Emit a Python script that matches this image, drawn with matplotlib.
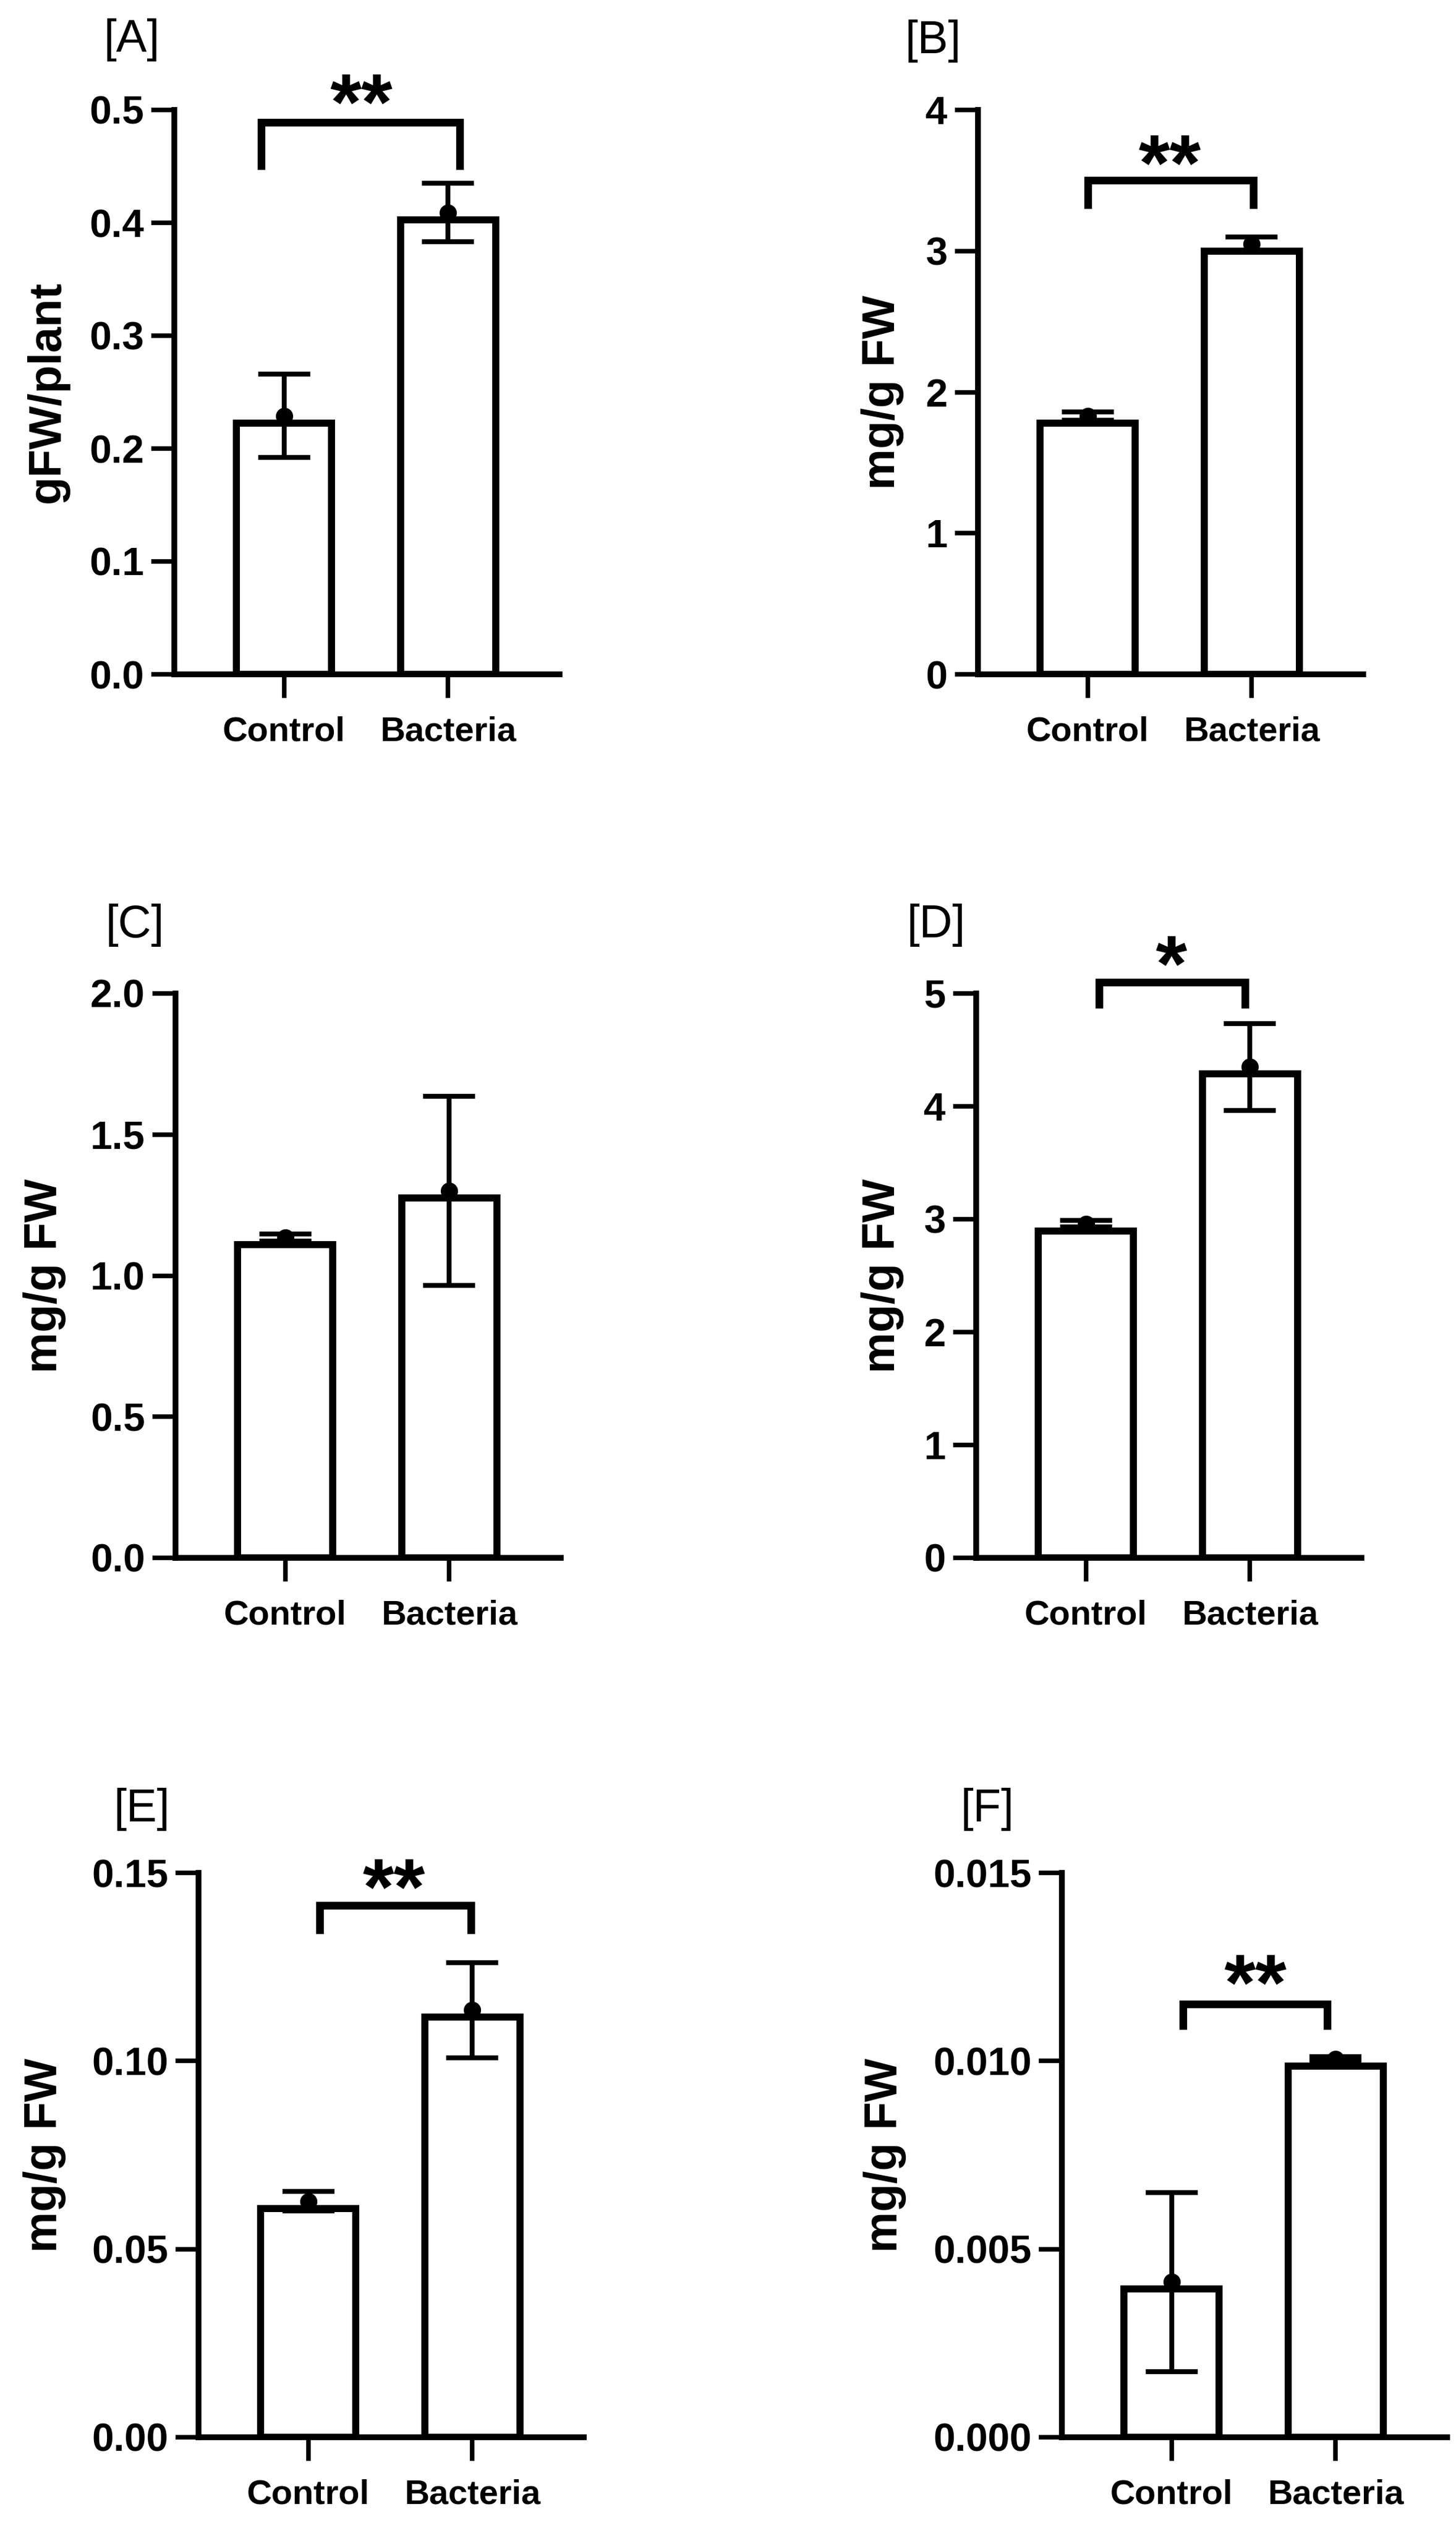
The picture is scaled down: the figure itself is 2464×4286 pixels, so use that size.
import matplotlib
matplotlib.use("Agg")
import matplotlib.pyplot as plt
import matplotlib.transforms as mtransforms
from matplotlib.ticker import FormatStrFormatter

plt.rcParams['font.family'] = ['Liberation Sans', 'DejaVu Sans']

# ---------------- data ----------------
groups = ["Control", "Bacteria"]
panel_tags = ["[A]", "[B]", "[C]", "[D]", "[E]", "[F]"]
ylabels = ["gFW/plant", "mg/g FW", "mg/g FW", "mg/g FW", "mg/g FW", "mg/g FW"]

means_A = [0.229, 0.409]
err_A = [0.037, 0.026]
means_B = [1.83, 3.05]
err_B = [0.03, 0.05]
means_C = [1.135, 1.30]
err_C = [0.012, 0.335]
means_D = [2.96, 4.35]
err_D = [0.03, 0.385]
means_E = [0.0627, 0.1135]
err_E = [0.0026, 0.0127]
means_F = [0.00413, 0.01005]
err_F = [0.00238, 0.00006]

yticks_A = [0.0, 0.1, 0.2, 0.3, 0.4, 0.5]
yticks_B = [0, 1, 2, 3, 4]
yticks_C = [0.0, 0.5, 1.0, 1.5, 2.0]
yticks_D = [0, 1, 2, 3, 4, 5]
yticks_E = [0.00, 0.05, 0.10, 0.15]
yticks_F = [0.000, 0.005, 0.010, 0.015]
tick_fmts = ["%.1f", "%d", "%.1f", "%d", "%.2f", "%.3f"]

# significance: label, bracket x0, x1, bracket y, tip y, star x, star y
sig_A = ["**", -0.14, 1.07, 0.489, 0.447, 0.47, 0.523]
sig_B = ["**", 0.00, 1.01, 3.50, 3.30, 0.50, 3.75]
sig_C = None
sig_D = ["*", 0.08, 0.97, 5.10, 4.87, 0.52, 5.42]
sig_E = ["**", 0.07, 0.99, 0.1413, 0.1339, 0.52, 0.151]
sig_F = ["**", 0.07, 0.95, 0.01151, 0.01084, 0.51, 0.01256]

all_means = [means_A, means_B, means_C, means_D, means_E, means_F]
all_errs = [err_A, err_B, err_C, err_D, err_E, err_F]
all_ticks = [yticks_A, yticks_B, yticks_C, yticks_D, yticks_E, yticks_F]
all_sig = [sig_A, sig_B, sig_C, sig_D, sig_E, sig_F]

# ---------------- layout ----------------
W, H = 2464, 4286
DPI = 100
fig = plt.figure(figsize=(W / DPI, H / DPI), dpi=DPI)
fig.patch.set_facecolor("white")

ax_w = 652
ax_h = 955
lefts = [295, 1655, 297, 1652, 336, 1797]
bottoms_px = [1141, 1141, 2636, 2636, 4124, 4124]
tag_pos = [(223, 68), (1579, 70), (228, 1565), (1584, 1565), (240, 3062), (1671, 3062)]
ylabel_x = [80, 1494, 76, 1494, 76, 1498]

spine_lw = 7.0
tick_w = 5.5
bar_lw = 8.6
err_lw = 6.0
bracket_lw = 9.4
bar_width = 0.58
xlim = (-0.67, 1.68)

for i in range(6):
    left = lefts[i] / W
    bottom = 1 - bottoms_px[i] / H
    ax = fig.add_axes([left, bottom, ax_w / W, ax_h / H])
    ticks = all_ticks[i]
    means = all_means[i]
    errs = all_errs[i]
    ymax = ticks[-1]
    ax.set_xlim(*xlim)
    ax.set_ylim(0, ymax)

    x = list(range(len(groups)))
    # bar border sits just below the mean point, as in the original
    inset = (bar_lw / 72 * DPI) / ax_h * ymax
    heights = [m - inset for m in means]
    ax.bar(x, heights, width=bar_width, facecolor="white", edgecolor="black",
           linewidth=bar_lw, zorder=3, joinstyle="miter")
    ax.errorbar(x, means, yerr=errs, fmt="none", ecolor="black",
                elinewidth=err_lw, capsize=32, capthick=err_lw, zorder=4)
    ax.plot(x, means, "o", color="black", markersize=20, zorder=5)

    for s in ["top", "right"]:
        ax.spines[s].set_visible(False)
    for s in ["left", "bottom"]:
        ax.spines[s].set_linewidth(spine_lw)
        ax.spines[s].set_capstyle("projecting")

    ax.set_yticks(ticks)
    ax.yaxis.set_major_formatter(FormatStrFormatter(tick_fmts[i]))
    ax.set_xticks(x)
    ax.set_xticklabels(groups)
    ax.tick_params(axis="y", length=28, width=tick_w, pad=9, labelsize=48)
    ax.tick_params(axis="x", length=29, width=tick_w, pad=22, labelsize=42)
    for lab in ax.get_yticklabels() + ax.get_xticklabels():
        lab.set_fontweight("bold")

    ax.set_ylabel(ylabels[i], fontsize=56, fontweight="bold", va="center")
    ax.yaxis.set_label_coords((ylabel_x[i] - lefts[i]) / ax_w, 0.5)

    sig = all_sig[i]
    if sig is not None:
        lab, x0, x1, yb, yt, sx, sy = sig
        ax.plot([x0, x0, x1, x1], [yt, yb, yb, yt], color="black",
                linewidth=bracket_lw, clip_on=False, zorder=6,
                solid_joinstyle="miter", solid_capstyle="butt")
        fs = 98
        tr = mtransforms.offset_copy(ax.transData, fig=fig, x=0, y=-0.56 * fs, units="points")
        ax.text(sx, sy, lab, fontsize=fs, fontweight="bold", ha="center",
                va="baseline", transform=tr, clip_on=False)

    tx, ty = tag_pos[i]
    fig.text(tx / W, 1 - ty / H, panel_tags[i], fontsize=56, ha="center", va="center")

fig.savefig("out.png", dpi=DPI, facecolor="white")
